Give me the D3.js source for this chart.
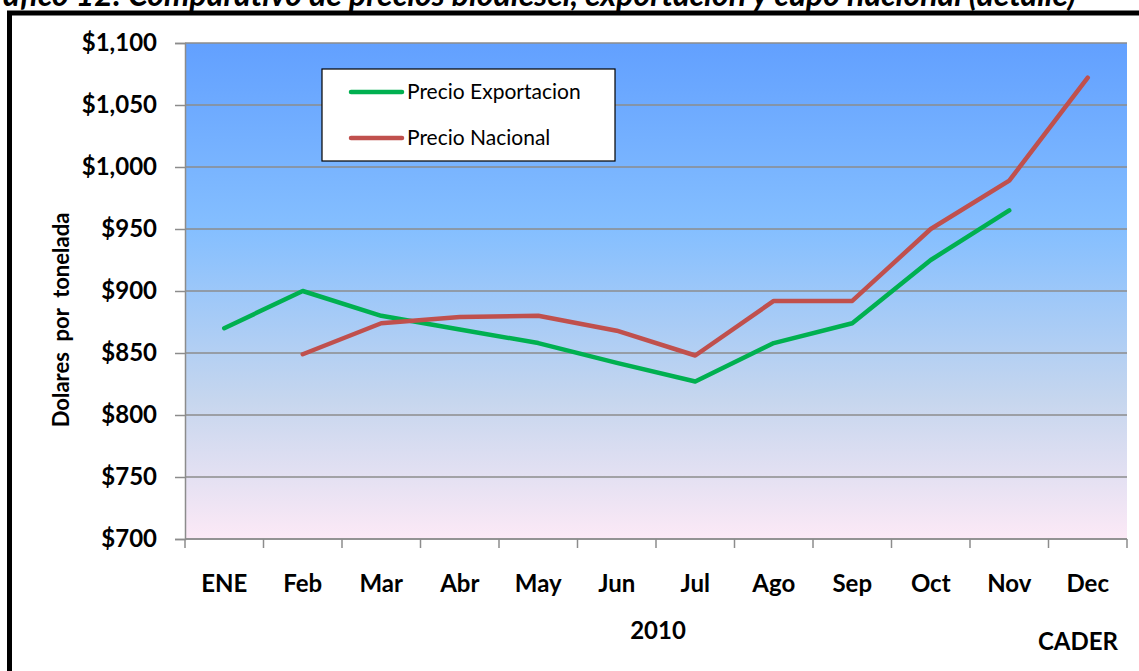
<!DOCTYPE html>
<html>
<head>
<meta charset="utf-8">
<script src="https://cdn.jsdelivr.net/npm/d3@7"></script>
<style>
  body { margin: 0; background: #fff; }
  svg { display: block; font-family: Lato, "Open Sans", sans-serif; }
</style>
</head>
<body>
<div id="chart-area"></div>
<script>
var months = ["ENE", "Feb", "Mar", "Abr", "May", "Jun", "Jul", "Ago", "Sep", "Oct", "Nov", "Dec"];
var exportacion = [870, 900, 880, 869, 858, 842, 827, 858, 874, 925, 965, null];
var nacional = [null, 849, 874, 879, 880, 868, 848, 892, 892, 950, 989, 1072];
var yTicks = [700, 750, 800, 850, 900, 950, 1000, 1050, 1100];

var W = 1139, H = 671;
var plot = { left: 185, right: 1127, top: 43, bottom: 539 };

var svg = d3.select("#chart-area")
    .append("svg")
    .attr("width", W)
    .attr("height", H);

// title, cut at top of picture like the reference
svg.append("text")
    .attr("x", 1076)
    .attr("y", 6)
    .attr("text-anchor", "end")
    .attr("font-size", 32)
    .attr("font-weight", "bold")
    .attr("font-style", "italic")
    .text("Gráfico 12: Comparativo de precios biodiesel, exportación y cupo nacional (detalle)");

// frame
svg.append("rect")
    .attr("x", 9.5)
    .attr("y", 13)
    .attr("width", W + 20)
    .attr("height", H + 20)
    .attr("fill", "none")
    .attr("stroke", "#000")
    .attr("stroke-width", 5);

var x = d3.scaleBand()
    .domain(months)
    .range([plot.left, plot.right]);

var y = d3.scaleLinear()
    .domain([700, 1100])
    .range([plot.bottom, plot.top]);

// background gradient
var grad = svg.append("defs").append("linearGradient")
    .attr("id", "bg")
    .attr("x1", 0).attr("y1", 0).attr("x2", 0).attr("y2", 1);
grad.append("stop").attr("offset", 0).attr("stop-color", "#62a0ff");
grad.append("stop").attr("offset", 0.38).attr("stop-color", "#85bfff");
grad.append("stop").attr("offset", 0.72).attr("stop-color", "#c6d6ee");
grad.append("stop").attr("offset", 1).attr("stop-color", "#fce9f6");

svg.append("rect")
    .attr("x", plot.left)
    .attr("y", plot.top)
    .attr("width", plot.right - plot.left)
    .attr("height", plot.bottom - plot.top)
    .attr("fill", "url(#bg)");

// gridlines
svg.append("g")
    .selectAll("line")
    .data(yTicks)
    .enter()
    .append("line")
    .attr("x1", plot.left)
    .attr("x2", plot.right)
    .attr("y1", d => y(d))
    .attr("y2", d => y(d))
    .attr("stroke", "#8c8c8c")
    .attr("stroke-width", 1.5);

// y axis
var yAxis = d3.axisLeft(y)
    .tickValues(yTicks)
    .tickSize(10)
    .tickPadding(18)
    .tickFormat(d => "$" + d3.format(",")(d));

var gy = svg.append("g")
    .attr("transform", "translate(" + plot.left + ", 0)")
    .call(yAxis);
gy.select(".domain").attr("stroke", "#8c8c8c").attr("stroke-width", 1.5);
gy.selectAll(".tick line").attr("stroke", "#8c8c8c").attr("stroke-width", 1.5);
gy.selectAll("text")
    .attr("font-size", 24)
    .attr("font-weight", "bold")
    .attr("fill", "#000")
    .attr("font-family", "Lato, sans-serif");

// x axis: ticks at category boundaries
var bounds = months.map(m => x(m)).concat([plot.right]);
svg.append("line")
    .attr("x1", plot.left)
    .attr("x2", plot.right)
    .attr("y1", plot.bottom)
    .attr("y2", plot.bottom)
    .attr("stroke", "#8c8c8c")
    .attr("stroke-width", 1.5);
svg.append("g")
    .selectAll("line")
    .data(bounds)
    .enter()
    .append("line")
    .attr("x1", d => d)
    .attr("x2", d => d)
    .attr("y1", plot.bottom)
    .attr("y2", plot.bottom + 9)
    .attr("stroke", "#8c8c8c")
    .attr("stroke-width", 1.5);

svg.append("g")
    .selectAll("text")
    .data(months)
    .enter()
    .append("text")
    .attr("x", d => x(d) + x.bandwidth() / 2)
    .attr("y", 592)
    .attr("text-anchor", "middle")
    .attr("font-size", 24)
    .attr("font-weight", "bold")
    .text(d => d);

// axis titles
svg.append("text")
    .attr("x", 658)
    .attr("y", 639)
    .attr("text-anchor", "middle")
    .attr("font-size", 24)
    .attr("font-weight", "bold")
    .text("2010");

svg.append("text")
    .attr("x", -320)
    .attr("y", 69)
    .attr("text-anchor", "middle")
    .attr("transform", "rotate(-90)")
    .attr("font-size", 22)
    .attr("font-weight", "bold")
    .style("white-space", "pre")
    .text("Dolares  por  tonelada");

svg.append("text")
    .attr("x", 1118)
    .attr("y", 650)
    .attr("text-anchor", "end")
    .attr("font-size", 24)
    .attr("font-weight", "bold")
    .text("CADER");

// lines
var series = [
    { name: "Precio Exportacion", values: exportacion, color: "#00b050" },
    { name: "Precio Nacional", values: nacional, color: "#c0504d" }
];

var line = d3.line()
    .defined(d => d.v != null)
    .x(d => x(d.m) + x.bandwidth() / 2)
    .y(d => y(d.v));

svg.append("g")
    .selectAll("path")
    .data(series)
    .enter()
    .append("path")
    .attr("d", s => line(months.map((m, i) => ({ m: m, v: s.values[i] }))))
    .attr("fill", "none")
    .attr("stroke", s => s.color)
    .attr("stroke-width", 4.5)
    .attr("stroke-linejoin", "round")
    .attr("stroke-linecap", "round");

// legend
var legend = svg.append("g");
legend.append("rect")
    .attr("x", 322)
    .attr("y", 69)
    .attr("width", 293)
    .attr("height", 92)
    .attr("fill", "#fff")
    .attr("stroke", "#000")
    .attr("stroke-width", 1.2);

var item = legend.selectAll(".item")
    .data(series)
    .enter()
    .append("g")
    .attr("transform", (d, i) => "translate(0, " + (92 + i * 46) + ")");
item.append("line")
    .attr("x1", 351)
    .attr("x2", 402)
    .attr("stroke", d => d.color)
    .attr("stroke-width", 4.5)
    .attr("stroke-linecap", "round");
item.append("text")
    .attr("x", 407)
    .attr("y", 7)
    .attr("font-size", 21)
    .text(d => d.name);
</script>
</body>
</html>
